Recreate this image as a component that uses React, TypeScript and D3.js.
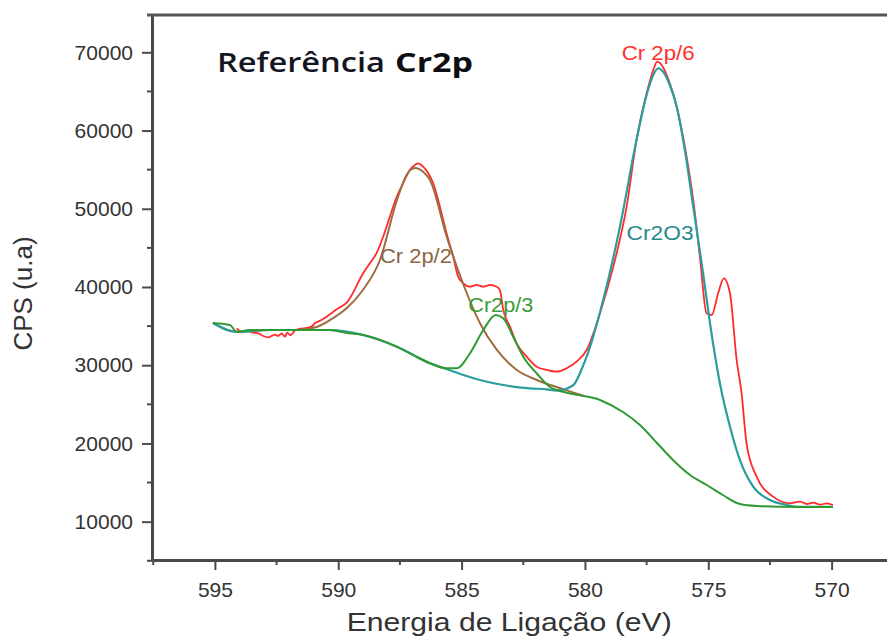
import React, { useEffect, useRef } from 'react';
import * as d3 from 'd3';

// Cr 2p reference spectrum
// measured envelope (red)
const measuredEnergy = [
  594.12, 593.92, 593.72, 593.45, 593.24, 593.04, 592.84, 592.7, 592.57, 592.43,
  592.3, 592.16, 592.07, 591.93, 591.76, 591.55, 591.28, 591.08, 590.95, 590.74,
  590.47, 590.2, 589.93, 589.66, 588.99, 588.72, 588.45, 588.18, 587.91, 587.63,
  587.37, 587.1, 586.89, 586.76, 586.56, 586.35, 586.15, 585.88, 585.61, 585.34,
  585.14, 584.93, 584.66, 584.39, 584.12, 583.85, 583.58, 583.45, 583.31, 583.04,
  582.77, 582.36, 581.96, 581.55, 581.15, 580.74, 580.34, 579.93, 579.39, 578.85,
  578.31, 577.91, 577.5, 577.23, 577.07, 576.89, 576.56, 576.28, 575.88, 575.61,
  575.34, 575.07, 574.86, 574.6, 574.37, 574.12, 573.85, 573.65, 573.45, 573.04,
  572.37, 571.69, 571.29, 571.01, 570.75, 570.47, 570.2, 569.94,
];
const measuredCps = [
  34720, 34290, 34420, 34160, 34080, 33740, 33570, 33740, 33900, 33740,
  34080, 33650, 34160, 33830, 34420, 34670, 34760, 34930, 35360, 35690,
  36210, 36840, 37410, 38000, 41750, 43030, 44310, 46430, 48990, 51540,
  53260, 54960, 55600, 55810, 55380, 54540, 53260, 50270, 46870, 43870,
  41320, 40470, 40040, 40260, 40040, 40260, 40040, 39620, 37060, 34930,
  32800, 31090, 29810, 29390, 29170, 29610, 30450, 31950, 36640, 42600,
  50270, 58790, 64760, 67740, 68800, 68380, 66040, 63050, 56660, 51120,
  43870, 36640, 36420, 39200, 41110, 39200, 30670, 26410, 20020, 15750,
  13200, 12350, 12560, 12260, 12430, 12170, 12350, 12130,
];

// background + Cr2p/3 (green)
const p3Energy = [
  595.08, 594.39, 594.11, 593.58, 592.77, 591.55, 590.34, 589.65, 588.99, 587.63,
  586.96, 586.28, 585.61, 585.2, 584.66, 584.12, 583.62, 583.31, 582.91, 582.5,
  581.96, 581.42, 581.01, 580.49, 579.39, 578.46, 577.77, 577.08, 576.43, 575.74,
  575.06, 574.41, 573.72, 573.03, 571.29, 569.95,
];
const p3Cps = [
  35400, 35140, 34250, 34500, 34500, 34500, 34500, 34120, 33870, 32370,
  31310, 30250, 29610, 29610, 31530, 34500, 36420, 36000, 33650, 31090,
  28970, 27220, 26710, 26320, 25560, 24020, 22360, 20060, 17890, 15970,
  14690, 13410, 12260, 12010, 11880, 11880,
];

// background + Cr2O3 (teal)
const oxideEnergy = [
  595.08, 594.11, 592.77, 590.34, 588.99, 587.63, 586.28, 585.88, 584.93, 584.26,
  583.31, 582.23, 581.55, 581.14, 580.49, 580.08, 579.93, 579.26, 578.58, 577.91,
  577.5, 577.23, 577.03, 576.83, 576.56, 576.28, 575.95, 575.61, 575.21, 574.93,
  574.53, 574.12, 573.72, 573.18, 572.5, 571.82, 571.29, 569.95,
];
const oxideCps = [
  35400, 34250, 34500, 34500, 33870, 32370, 30250, 29810, 28750, 28110,
  27470, 27050, 26920, 26760, 27400, 29900, 31090, 38340, 47710, 58790,
  64550, 67100, 67960, 67520, 65820, 63050, 57510, 50270, 41750, 35360,
  27700, 22140, 17890, 14470, 12770, 12130, 11880, 11880,
];

// background + Cr 2p/2 (brown)
const p2Energy = [
  595.08, 594.11, 592.77, 591.68, 590.87, 590.2, 589.65, 589.0, 588.31, 587.62,
  587.23, 586.89, 586.56, 586.28, 585.6, 584.95, 584.26, 583.57, 582.76, 581.95,
  580.89, 580.08,
];
const p2Cps = [
  35400, 34250, 34500, 34500, 34890, 36040, 37320, 39620, 43450, 51120,
  54320, 55210, 54740, 53680, 46390, 40510, 35400, 31950, 29390, 28110,
  26950, 26100,
];

const xTicks = [595, 590, 585, 580, 575, 570];
const xMinorTicks = [597.5, 592.5, 587.5, 582.5, 577.5, 572.5];
const yTicks = [10000, 20000, 30000, 40000, 50000, 60000, 70000];
const yMinorTicks = [5000, 15000, 25000, 35000, 45000, 55000, 65000];

const labelText = ['Cr 2p/6', 'Cr 2p/2', 'Cr2p/3', 'Cr2O3'];
const labelEnergy = [578.51, 588.31, 584.73, 578.31];
const labelCps = [69020, 43070, 36840, 46010];

const width = 887;
const height = 641;

const App = () => {
  const svgRef = useRef(null);

  useEffect(() => {
    const svg = d3.select(svgRef.current);
    svg.selectAll('*').remove();

    const left = 152;
    const top = 15;
    const bottom = 560;

    const x = d3.scaleLinear().domain([597.55, 567.5]).range([left, 893.3]);
    const y = d3.scaleLinear().domain([5100, 74770]).range([bottom, top]);

    const axisColor = '#4a4a4a';
    const sans = '"Liberation Sans", Arial, sans-serif';

    // curves
    const line = d3
      .line<[number, number]>()
      .x(d => x(d[0]))
      .y(d => y(d[1]))
      .curve(d3.curveMonotoneX);

    const series = [
      { e: measuredEnergy, c: measuredCps, color: '#ff2b2b', w: 1.8 },
      { e: p2Energy, c: p2Cps, color: '#9c6d40', w: 2 },
      { e: oxideEnergy, c: oxideCps, color: '#2a9d9f', w: 2.2 },
      { e: p3Energy, c: p3Cps, color: '#2f9a34', w: 2 },
    ];

    series.forEach(s => {
      svg
        .append('path')
        .attr('d', line(s.e.map((e, i) => [e, s.c[i]])))
        .attr('fill', 'none')
        .attr('stroke', s.color)
        .attr('stroke-width', s.w)
        .attr('stroke-linejoin', 'round');
    });

    // x axis
    svg
      .append('g')
      .attr('transform', `translate(0,${bottom})`)
      .call(
        d3.axisBottom(x).tickValues(xTicks).tickSize(10).tickSizeOuter(0).tickPadding(12).tickFormat(d3.format('d'))
      )
      .call(g => g.select('.domain').attr('stroke', axisColor).attr('stroke-width', 3))
      .call(g => g.selectAll('.tick line').attr('stroke', axisColor).attr('stroke-width', 2))
      .call(g =>
        g.selectAll('.tick text').attr('font-size', 21).attr('font-family', sans).attr('fill', '#333')
      );

    svg
      .append('g')
      .selectAll('line')
      .data(xMinorTicks)
      .enter()
      .append('line')
      .attr('x1', d => x(d))
      .attr('x2', d => x(d))
      .attr('y1', bottom)
      .attr('y2', bottom + 5)
      .attr('stroke', axisColor)
      .attr('stroke-width', 2);

    // y axis
    svg
      .append('g')
      .attr('transform', `translate(${left},0)`)
      .call(d3.axisLeft(y).tickValues(yTicks).tickSize(10).tickSizeOuter(0).tickPadding(9).tickFormat(d3.format('d')))
      .call(g => g.select('.domain').attr('stroke', axisColor).attr('stroke-width', 3))
      .call(g => g.selectAll('.tick line').attr('stroke', axisColor).attr('stroke-width', 2))
      .call(g =>
        g.selectAll('.tick text').attr('font-size', 21).attr('font-family', sans).attr('fill', '#333')
      );

    svg
      .append('g')
      .selectAll('line')
      .data(yMinorTicks)
      .enter()
      .append('line')
      .attr('x1', left - 5)
      .attr('x2', left)
      .attr('y1', d => y(d))
      .attr('y2', d => y(d))
      .attr('stroke', axisColor)
      .attr('stroke-width', 2);

    // top frame line
    svg
      .append('line')
      .attr('x1', left - 5)
      .attr('x2', width + 10)
      .attr('y1', top)
      .attr('y2', top)
      .attr('stroke', '#555')
      .attr('stroke-width', 3);

    // axis titles
    svg
      .append('text')
      .attr('x', 346.7)
      .attr('y', 631)
      .attr('font-family', sans)
      .attr('font-size', 26)
      .attr('fill', '#333')
      .attr('textLength', 325)
      .attr('lengthAdjust', 'spacingAndGlyphs')
      .text('Energia de Ligação (eV)');

    svg
      .append('text')
      .attr('transform', 'translate(32,293.5) rotate(-90)')
      .attr('text-anchor', 'middle')
      .attr('font-family', sans)
      .attr('font-size', 26)
      .attr('fill', '#333')
      .text('CPS (u.a)');

    // title
    const titleFont = '"Open Sans", "Noto Sans", sans-serif';
    svg
      .append('text')
      .attr('x', 217)
      .attr('y', 72)
      .attr('font-family', titleFont)
      .attr('font-size', 27)
      .attr('font-weight', 600)
      .attr('fill', '#15151f')
      .attr('textLength', 168)
      .attr('lengthAdjust', 'spacingAndGlyphs')
      .text('Referência');
    svg
      .append('text')
      .attr('x', 395)
      .attr('y', 72)
      .attr('font-family', titleFont)
      .attr('font-size', 27)
      .attr('font-weight', 'bold')
      .attr('fill', '#0d0d12')
      .attr('textLength', 78)
      .attr('lengthAdjust', 'spacingAndGlyphs')
      .text('Cr2p');

    // peak labels
    const labelColor = ['#ff3030', '#8d6440', '#3a9b3a', '#2b8a8c'];
    const labelWidth = [73, 72, 65, 67];
    labelText.forEach((t, i) => {
      svg
        .append('text')
        .attr('x', x(labelEnergy[i]))
        .attr('y', y(labelCps[i]))
        .attr('font-family', sans)
        .attr('font-size', 21)
        .attr('fill', labelColor[i])
        .attr('textLength', labelWidth[i])
        .attr('lengthAdjust', 'spacingAndGlyphs')
        .text(t);
    });
  }, []);

  return (
    <svg
      ref={svgRef}
      width={width}
      height={height}
      style={{ position: 'absolute', left: 0, top: 0, background: '#fff', overflow: 'hidden' }}
    />
  );
};

export default App;
